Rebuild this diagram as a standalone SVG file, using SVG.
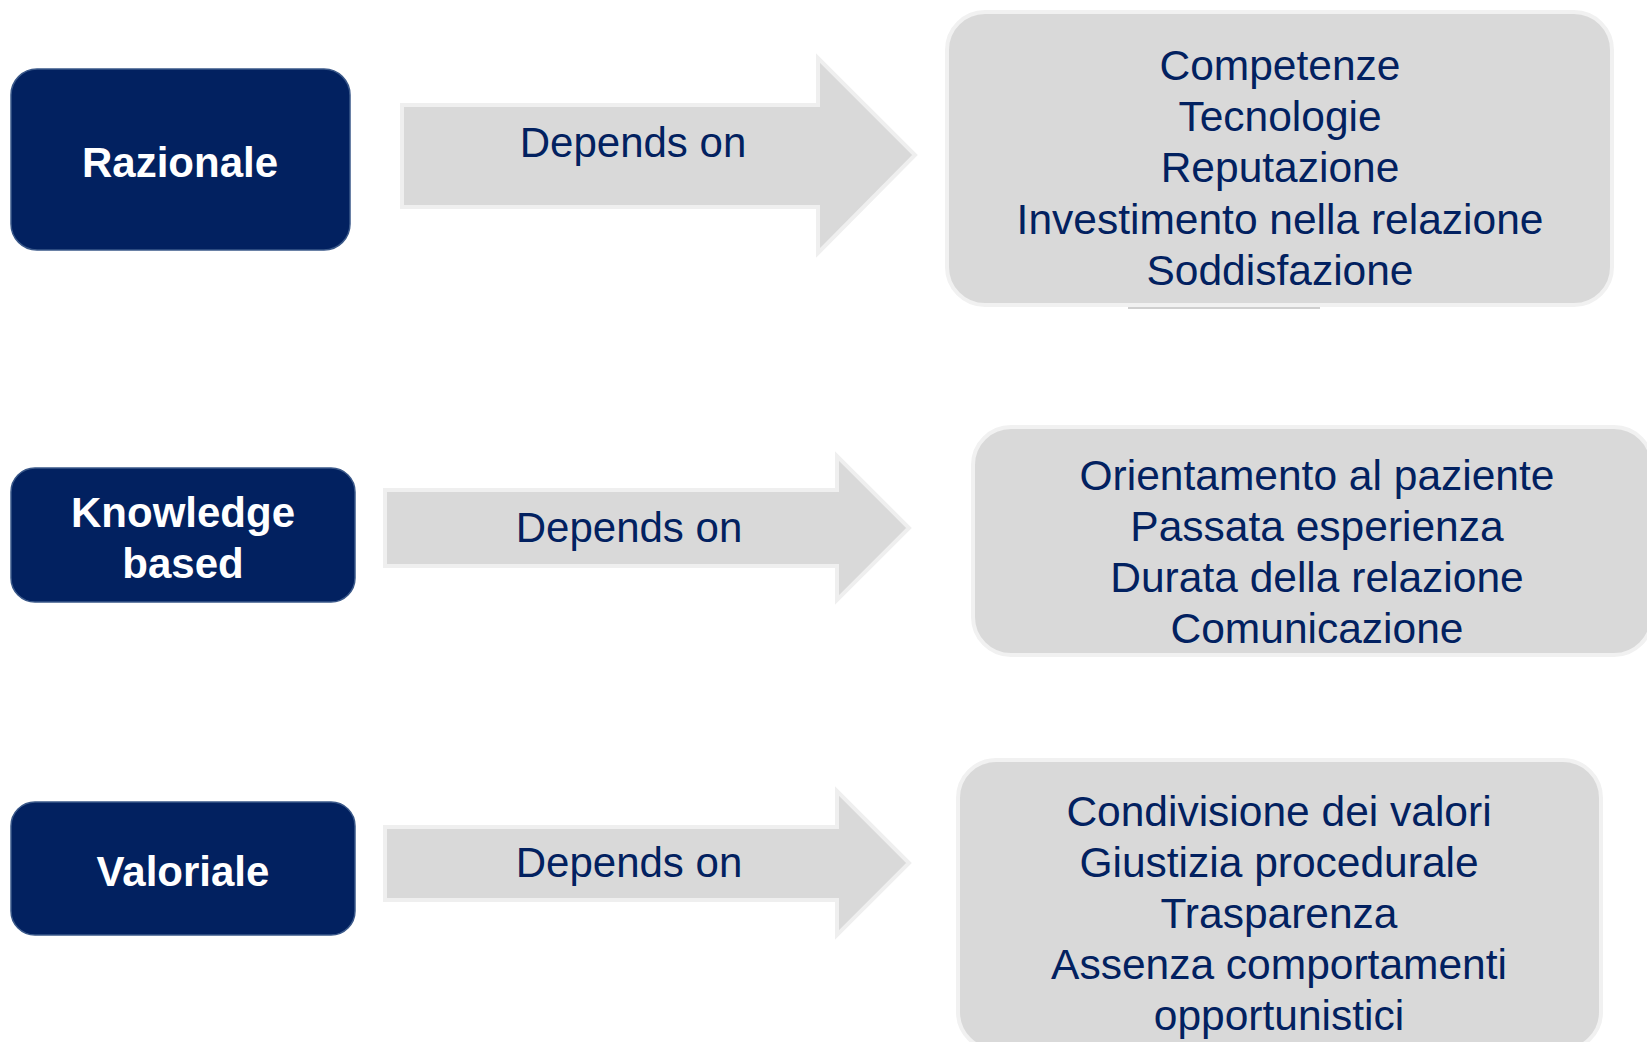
<svg xmlns="http://www.w3.org/2000/svg" width="1647" height="1042" viewBox="0 0 1647 1042">
  <style>
    .navy { fill: #022160; stroke: #3a5889; stroke-width: 1.5; }
    .gray { fill: #d9d9d9; stroke: #f1f1f1; stroke-width: 4; }
    .arrow { fill: #d9d9d9; stroke: #efefef; stroke-width: 4; stroke-linejoin: miter; }
    .lbl { font-family: "Liberation Sans", Arial, sans-serif; font-weight: bold; font-size: 42px; fill: #ffffff; text-anchor: middle; }
    .dep { font-family: "Liberation Sans", Arial, sans-serif; font-size: 42px; fill: #022160; text-anchor: middle; }
    .item { font-family: "Liberation Sans", Arial, sans-serif; font-size: 42.5px; fill: #022160; text-anchor: middle; }
  </style>
  <rect width="1647" height="1042" fill="#ffffff"/>

  <g id="connectors">
    <g id="arrow-1">
      <path class="arrow" d="M402,105 H818 V58 L915,155 L818,253 V207 H402 Z"/>
      <text class="dep" x="633" y="157">Depends on</text>
    </g>
    <g id="arrow-2">
      <path class="arrow" d="M385,490 H837 V456 L909,528 L837,600 V566 H385 Z"/>
      <text class="dep" x="629" y="542">Depends on</text>
    </g>
    <g id="arrow-3">
      <path class="arrow" d="M385,827 H837 V791 L909,863 L837,935 V900 H385 Z"/>
      <text class="dep" x="629" y="877">Depends on</text>
    </g>
  </g>

  <g id="node-razionale">
    <rect class="navy" x="11" y="69" width="339" height="181" rx="26"/>
    <text class="lbl" x="180" y="177">Razionale</text>
  </g>
  <g id="node-knowledge">
    <rect class="navy" x="11" y="468" width="344" height="134" rx="24"/>
    <text class="lbl" x="183" y="527">Knowledge</text>
    <text class="lbl" x="183" y="578">based</text>
  </g>
  <g id="node-valoriale">
    <rect class="navy" x="11" y="802" width="344" height="133" rx="24"/>
    <text class="lbl" x="183" y="886">Valoriale</text>
  </g>

  <g id="node-fattori-razionale">
    <rect class="gray" x="947" y="12" width="665" height="293" rx="38"/>
    <line x1="1128" y1="308" x2="1320" y2="308" stroke="#cfcfcf" stroke-width="2"/>
    <text class="item" x="1280" y="80">Competenze</text>
    <text class="item" x="1280" y="131">Tecnologie</text>
    <text class="item" x="1280" y="182">Reputazione</text>
    <text class="item" x="1280" y="234">Investimento nella relazione</text>
    <text class="item" x="1280" y="285">Soddisfazione</text>
  </g>

  <g id="node-fattori-knowledge">
    <rect class="gray" x="973" y="427" width="679" height="228" rx="38"/>
    <text class="item" x="1317" y="490">Orientamento al paziente</text>
    <text class="item" x="1317" y="541">Passata esperienza</text>
    <text class="item" x="1317" y="592">Durata della relazione</text>
    <text class="item" x="1317" y="643">Comunicazione</text>
  </g>

  <g id="node-fattori-valoriale">
    <rect class="gray" x="958" y="760" width="643" height="290" rx="38"/>
    <text class="item" x="1279" y="826">Condivisione dei valori</text>
    <text class="item" x="1279" y="877">Giustizia procedurale</text>
    <text class="item" x="1279" y="928">Trasparenza</text>
    <text class="item" x="1279" y="979">Assenza comportamenti</text>
    <text class="item" x="1279" y="1030">opportunistici</text>
  </g>
</svg>
